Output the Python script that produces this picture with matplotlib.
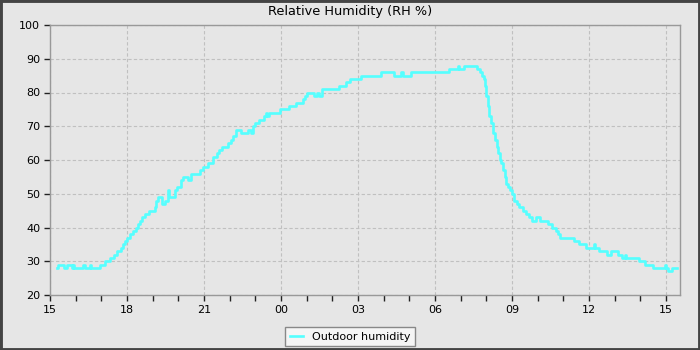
import numpy as np
import matplotlib
matplotlib.use('Agg')
from matplotlib import pyplot as plt
from matplotlib.patches import Rectangle

# hours since 15:00, relative humidity (%)
hours = [0.27, 0.32, 0.55, 0.65, 0.85, 0.90, 0.95, 1.30, 1.37, 1.55, 1.60, 1.95,
         2.15, 2.35, 2.50, 2.60, 2.75, 2.85, 2.92, 3.00, 3.12, 3.25, 3.35, 3.42,
         3.50, 3.58, 3.72, 3.85, 4.10, 4.15, 4.20, 4.35, 4.48, 4.58, 4.65, 4.88,
         4.95, 5.10, 5.20, 5.38, 5.50, 5.85, 5.95, 6.15, 6.35, 6.50, 6.60, 6.72,
         6.92, 7.05, 7.12, 7.25, 7.45, 7.70, 7.85, 7.90, 7.98, 8.15, 8.35, 8.42,
         8.47, 8.55, 8.95, 9.30, 9.60, 9.85, 9.93, 10.00, 10.30, 10.42, 10.50, 10.60,
         11.28, 11.55, 11.70, 12.10, 12.90, 13.40, 13.68, 13.75, 14.05, 15.55, 15.90, 15.95,
         16.15, 16.65, 16.75, 16.85, 16.92, 16.96, 17.00, 17.07, 17.12, 17.20, 17.27, 17.33,
         17.40, 17.46, 17.52, 17.58, 17.65, 17.72, 17.78, 17.85, 17.92, 18.00, 18.10, 18.18,
         18.28, 18.42, 18.55, 18.68, 18.80, 18.95, 19.10, 19.40, 19.55, 19.70, 19.80, 19.88,
         20.40, 20.60, 20.90, 21.20, 21.25, 21.40, 21.70, 21.85, 22.15, 22.30, 22.40, 22.45,
         22.95, 23.20, 23.50, 23.95, 24.00, 24.10, 24.25, 24.43]
rh = [28, 29, 28, 29, 28, 29, 28, 29, 28, 29, 28, 29,
      30, 31, 32, 33, 34, 35, 36, 37, 38, 39, 40, 41,
      42, 43, 44, 45, 46, 48, 49, 47, 48, 51, 49, 51,
      52, 54, 55, 54, 56, 57, 58, 59, 61, 62, 63, 64,
      65, 66, 67, 69, 68, 69, 68, 70, 71, 72, 73, 74,
      73, 74, 75, 76, 77, 78, 79, 80, 79, 80, 79, 81,
      82, 83, 84, 85, 86, 85, 86, 85, 86, 87, 88, 87,
      88, 87, 86, 85, 84, 82, 79, 76, 73, 71, 68, 66,
      64, 62, 60, 59, 57, 55, 53, 52, 51, 50, 48, 47,
      46, 45, 44, 43, 42, 43, 42, 41, 40, 39, 38, 37,
      36, 35, 34, 35, 34, 33, 32, 33, 32, 31, 32, 31,
      30, 29, 28, 29, 28, 27, 28, 28]

tick_hours = [0, 3, 6, 9, 12, 15, 18, 21, 24]
tick_labels = ['15', '18', '21', '00', '03', '06', '09', '12', '15']

bg = '#e6e6e6'
fig = plt.figure(figsize=(7, 3.5), dpi=100, facecolor=bg)
ax = fig.add_axes([50/700, 1-295/350, 630/700, 270/350], facecolor=bg)

ax.plot(hours, rh, drawstyle='steps-post', color='#55ffff', lw=1.9,
        label='Outdoor humidity')

ax.set_xlim(0, 24.55)
ax.set_ylim(20, 100)
ax.set_xticks(tick_hours)
ax.set_xticklabels(tick_labels)
ax.set_xticks(np.arange(0, 25, 1), minor=True)
ax.set_yticks(range(20, 101, 10))
ax.tick_params(axis='both', which='both', labelsize=8, length=4, width=1,
               color='#222222', pad=3)
ax.tick_params(axis='y', which='minor', length=0)
for s in ax.spines.values():
    s.set_color('#999999')
    s.set_linewidth(1)
ax.grid(True, which='major', color='#c0c0c0', linestyle=(0, (3, 2)), lw=0.8)
ax.set_axisbelow(True)

fig.text(0.5, 1-12/350, 'Relative Humidity (RH %)', ha='center', va='center', fontsize=9.3)

leg = fig.legend(loc='center', bbox_to_anchor=(350/700, 1-336.5/350), fontsize=8,
                 handlelength=1.2, fancybox=False, framealpha=1,
                 facecolor='#f5f5f5', edgecolor='#888888', borderpad=0.4)

fig.patches.append(Rectangle((0, 0), 1, 1, transform=fig.transFigure, fill=False,
                             edgecolor='#444444', lw=3.5))

fig.savefig('out.png', dpi=100, facecolor=bg)
